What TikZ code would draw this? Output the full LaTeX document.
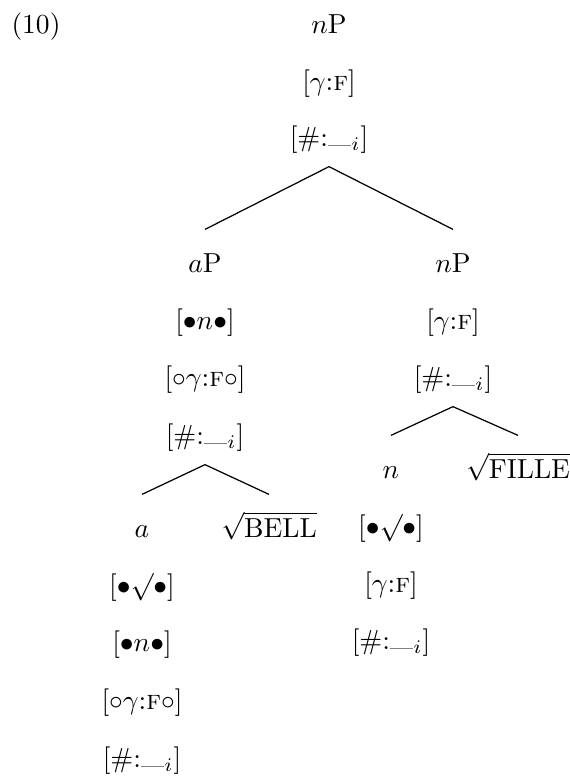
\documentclass[tikz,border=0pt]{standalone}
\usepackage{amsmath}
\usepackage{xcolor}
\usetikzlibrary{calc}
\newcommand{\gapline}{\mathord{\textcolor{gray}{\rule{0.85em}{0.5pt}}}}
\newcommand{\fsc}{\text{\textsc{f}}}
\tikzset{
  lbl/.style={anchor=base, inner xsep=0pt, inner ysep=4.8pt, text height=10.5pt, text depth=2.5pt},
  branch/.style={draw=black, line width=0.45pt},
}
\begin{document}
\begin{tikzpicture}[x=0.3636pt, y=-0.3636pt]
\useasboundingbox (0,0) rectangle (569,778);
% example number
\node[lbl] (ex) at (36,33) {(10)};
% top nP
\node[lbl] (top) at (329,33) {$n$P};
\node[lbl] (topg) at (329,90) {$[\gamma{:}\fsc]$};
\node[lbl] (toph) at (329,146) {$[\#{:}\gapline_i]$};
% aP
\node[lbl] (aP) at (205,272) {$a$P};
\node[lbl] (aPn) at (205,329) {$[\bullet n\bullet]$};
\node[lbl] (aPg) at (205,386) {$[\circ\gamma{:}\fsc\circ]$};
\node[lbl] (aPh) at (205,444) {$[\#{:}\gapline_i]$};
% right nP
\node[lbl] (nP) at (453,272) {$n$P};
\node[lbl] (nPg) at (453,329) {$[\gamma{:}\fsc]$};
\node[lbl] (nPh) at (453,386) {$[\#{:}\gapline_i]$};
% a
\node[lbl] (a) at (142,537) {$a$};
\node[lbl] (ar) at (142,594) {$[\bullet\surd\bullet]$};
\node[lbl] (an) at (142,651) {$[\bullet n\bullet]$};
\node[lbl] (ag) at (142,709) {$[\circ\gamma{:}\fsc\circ]$};
\node[lbl] (ah) at (142,767) {$[\#{:}\gapline_i]$};
% bell
\node[lbl] (bell) at (269,537) {$\sqrt{\text{BELL}}$};
% n
\node[lbl] (n) at (391,478) {$n$};
\node[lbl] (nr) at (391,535) {$[\bullet\surd\bullet]$};
\node[lbl] (ng) at (391,592) {$[\gamma{:}\fsc]$};
\node[lbl] (nh) at (391,649) {$[\#{:}\gapline_i]$};
% fille
\node[lbl] (fille) at (518,478) {$\sqrt{\text{FILLE}}$};
% branches
\draw[branch] (aP.north) -- (toph.south) -- (nP.north);
\draw[branch] (a.north) -- (aPh.south) -- (bell.north);
\draw[branch] (n.north) -- (nPh.south) -- (fille.north);
\end{tikzpicture}
\end{document}
